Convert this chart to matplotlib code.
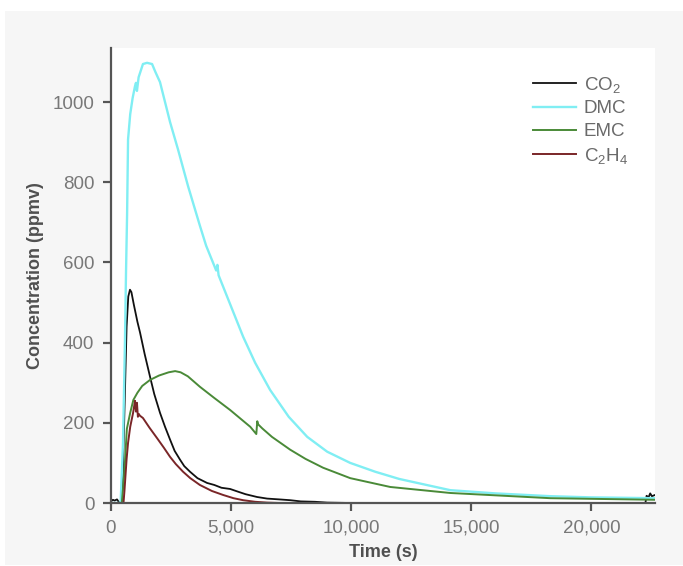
import matplotlib
matplotlib.use('Agg')
import matplotlib.pyplot as plt
from matplotlib.patches import Rectangle
from matplotlib.ticker import FuncFormatter

plt.rcParams['font.family'] = ['Liberation Sans', 'DejaVu Sans']
plt.rcParams['mathtext.default'] = 'regular'

# values (time in s, concentration in ppmv)
co2_t = [0, 80, 150, 250, 330, 420, 480, 560, 650, 720, 790, 850, 950, 1100, 1210, 1400,
         1625, 1800, 2040, 2250, 2460, 2650, 2875, 3050, 3290, 3600, 4000, 4300, 4600,
         4960, 5300, 5600, 6080, 6500, 7000, 7460, 7900, 8500, 9000, 10000, 15000,
         20000, 22250, 22300, 22380, 22450, 22520, 22650]
co2 = [4, 8, 6, 9, 2, 0, 40, 230, 440, 515, 532, 526, 495, 452, 425, 372,
       315, 272, 225, 190, 158, 130, 108, 92, 78, 62, 50, 45, 38,
       35, 28, 22, 15, 11, 9, 7, 4, 3, 1, 0, 0,
       0, 0, 18, 14, 24, 17, 20]

dmc_t = [0, 400, 500, 580, 625, 670, 710, 800, 900, 1000, 1040, 1080, 1150, 1330, 1500,
         1710, 1850, 2040, 2250, 2460, 2790, 3210, 3700, 3960, 4380, 4430, 4480, 5000,
         5500, 6000, 6625, 7400, 8170, 9000, 9960, 11000, 12000, 14125, 16000, 18290,
         20000, 22650]
dmc = [0, 0, 150, 400, 575, 720, 907, 970, 1010, 1040, 1048, 1028, 1062, 1095, 1098,
       1095, 1075, 1050, 1000, 950, 882, 790, 692, 642, 580, 594, 568, 490,
       415, 350, 282, 215, 165, 128, 100, 78, 60, 32, 24, 17,
       14, 12]

emc_t = [0, 450, 560, 660, 800, 930, 1100, 1300, 1625, 2000, 2400, 2670, 2900, 3200,
         3700, 4300, 4960, 5500, 5800, 6050, 6090, 6130, 6300, 6700, 7460, 8100, 8830,
         9960, 11625, 14125, 18290, 22650]
emc = [0, 0, 80, 185, 225, 257, 275, 292, 307, 318, 326, 329, 326, 316,
       290, 262, 232, 205, 190, 172, 204, 196, 186, 165, 133, 110, 88,
       62, 40, 25, 12, 8]

c2h4_t = [0, 520, 560, 650, 710, 800, 920, 960, 1000, 1040, 1080, 1120, 1160, 1200,
          1330, 1600, 1915, 2200, 2460, 2700, 3000, 3300, 3700, 4200, 4670, 5100, 5500,
          6000, 6500, 7000, 22650]
c2h4 = [0, 0, 30, 110, 150, 190, 225, 240, 255, 228, 250, 215, 222, 218,
        212, 188, 162, 138, 115, 97, 78, 62, 45, 30, 20, 12, 7,
        3, 1, 0, 0]

series = [
    ('CO$_2$', co2_t, co2, '#111111', 1.3),
    ('DMC', dmc_t, dmc, '#80eef3', 1.7),
    ('EMC', emc_t, emc, '#4a8a38', 1.4),
    ('C$_2$H$_4$', c2h4_t, c2h4, '#7a2628', 1.4),
]

fig = plt.figure(figsize=(6.83, 5.66), dpi=100)
fig.patches.append(Rectangle((5 / 683, 1 - 565 / 566), 1, (565 - 11) / 566,
                             transform=fig.transFigure, facecolor='#f6f6f6',
                             edgecolor='none', zorder=-10))

ax = fig.add_axes([111 / 683, 1 - 503 / 566, (655 - 111) / 683, (503 - 48) / 566])
ax.set_facecolor('white')

for name, t, v, col, lw in series:
    ax.plot(t, v, color=col, lw=lw, label=name)

ax.set_xlim(0, 22650)
ax.set_ylim(0, 1135)
ax.set_xticks([0, 5000, 10000, 15000, 20000])
ax.set_yticks([0, 200, 400, 600, 800, 1000])
ax.xaxis.set_major_formatter(FuncFormatter(lambda x, p: f'{int(x):,}'))

for s in ['top', 'right']:
    ax.spines[s].set_visible(False)
for s in ['left', 'bottom']:
    ax.spines[s].set_color('#555555')
    ax.spines[s].set_linewidth(1.6)
ax.tick_params(direction='out', length=6, width=1.6, color='#555555',
               labelcolor='#787878', labelsize=13.5, pad=6)

ax.set_xlabel('Time (s)', fontsize=13, fontweight='bold', color='#505050', labelpad=5)
ax.set_ylabel('Concentration (ppmv)', fontsize=13, fontweight='bold', color='#505050',
              labelpad=6)

leg = ax.legend(loc='upper left', bbox_to_anchor=(0.762, 0.958), frameon=False,
                fontsize=13.5, handlelength=2.3, handletextpad=0.4, labelspacing=0.3,
                borderaxespad=0)
for txt in leg.get_texts():
    txt.set_color('#6a6a6a')

fig.savefig('out.png', dpi=100)
